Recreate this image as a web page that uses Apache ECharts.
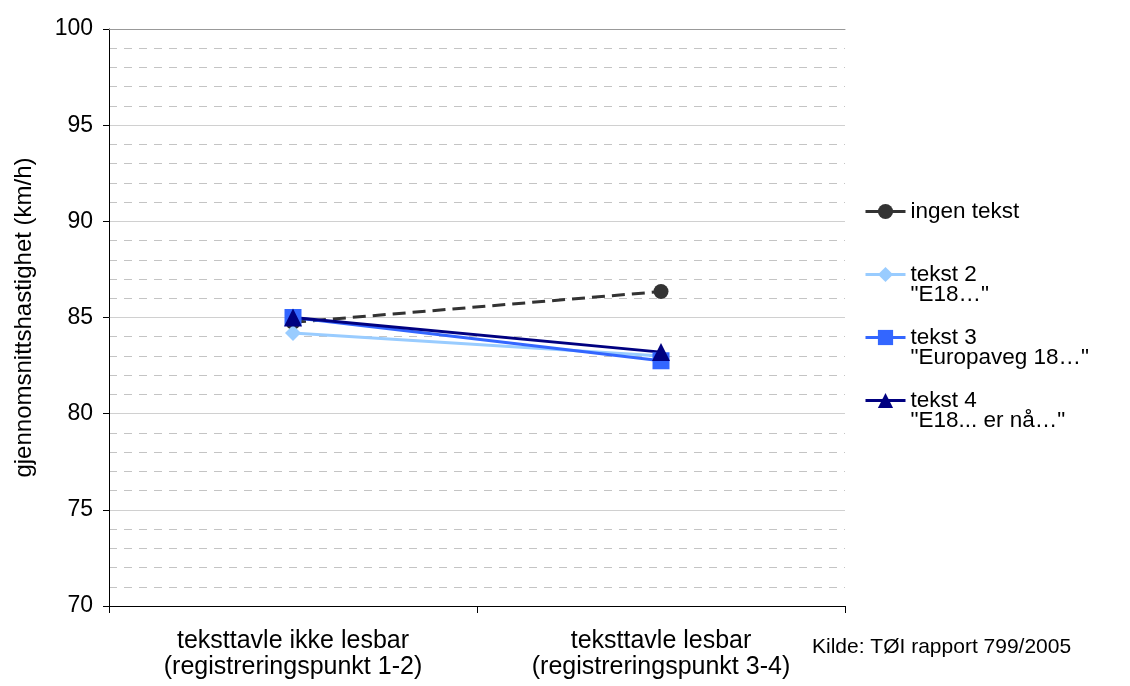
<!DOCTYPE html>
<html>
<head>
<meta charset="utf-8">
<script src="https://cdn.jsdelivr.net/npm/echarts@6/dist/echarts.min.js"></script>
<style>
  html, body { margin: 0; padding: 0; background: #ffffff; }
  #chart { width: 1130px; height: 686px; }
</style>
</head>
<body>
<div id="chart"></div>
<script>
// Categories along the x axis
const categories = [
  'teksttavle ikke lesbar\n(registreringspunkt 1-2)',
  'teksttavle lesbar\n(registreringspunkt 3-4)'
];

// Average speeds (km/h) for each sign text variant
const ingenTekst = [84.75, 86.35];
const tekst2 = [84.2, 83.0];
const tekst3 = [85.0, 82.75];
const tekst4 = [85.0, 83.2];

// Legend labels (name line + quoted text line)
const seriesNames = ['ingen tekst', 'tekst 2', 'tekst 3', 'tekst 4'];
const seriesSubtitles = ['', '"E18…"', '"Europaveg 18…"', '"E18... er nå…"'];

const yTicks = { min: 70, max: 100, interval: 5 };
const sourceNote = 'Kilde: TØI rapport 799/2005';

const FONT = '"Liberation Sans", Arial, sans-serif';

const chart = echarts.init(document.getElementById('chart'), null, { renderer: 'canvas' });

function lineSeries(name, data, color, symbol, symbolSize, dashed) {
  return {
    name: name,
    type: 'line',
    xAxisIndex: 0,
    data: data,
    symbol: symbol,
    symbolSize: symbolSize,
    lineStyle: { color: color, width: 3, type: dashed ? [13, 7] : 'solid' },
    itemStyle: { color: color },
    emphasis: { disabled: true },
    animation: false
  };
}

const option = {
  backgroundColor: '#ffffff',
  textStyle: { fontFamily: FONT },
  grid: { left: 109, right: 285, top: 29, bottom: 80, containLabel: false },
  legend: {
    orient: 'vertical',
    left: 859,
    top: 175,
    itemWidth: 40,
    itemHeight: 19,
    itemGap: 0,
    data: seriesNames.map(n => ({ name: n, lineStyle: { type: 'solid', width: 3 } })),
    formatter: function (name) {
      const i = seriesNames.indexOf(name);
      return '\n' + name + '\n' + seriesSubtitles[i];
    },
    textStyle: { fontFamily: FONT, fontSize: 22.5, color: '#000', lineHeight: 20 },
    selectedMode: false
  },
  xAxis: [
    {
      type: 'category',
      data: categories,
      boundaryGap: true,
      axisLine: { lineStyle: { color: '#000', width: 1 } },
      axisTick: { show: true, length: 7, lineStyle: { color: '#000' } },
      axisLabel: { fontFamily: FONT, fontSize: 25, color: '#000', lineHeight: 26, margin: 22 },
      splitLine: { show: false }
    },
    {
      // top edge of the plot area
      type: 'category',
      data: categories,
      position: 'top',
      axisLine: { lineStyle: { color: '#999999', width: 1 } },
      axisTick: { show: false },
      axisLabel: { show: false },
      splitLine: { show: false }
    }
  ],
  yAxis: {
    type: 'value',
    min: yTicks.min,
    max: yTicks.max,
    interval: yTicks.interval,
    name: 'gjennomsnittshastighet (km/h)',
    nameLocation: 'middle',
    nameGap: 73,
    nameTextStyle: { fontFamily: FONT, fontSize: 24, color: '#000' },
    axisLine: { show: true, lineStyle: { color: '#000', width: 1 } },
    axisTick: { show: true, length: 6, lineStyle: { color: '#000' } },
    axisLabel: { fontFamily: FONT, fontSize: 23, color: '#000', margin: 16 },
    splitLine: { show: true, lineStyle: { color: '#d0d0d0', width: 1 } },
    minorTick: { show: false, splitNumber: 5 },
    minorSplitLine: { show: true, lineStyle: { color: '#c4c4c4', width: 1, type: [8, 7] } }
  },
  graphic: [
    {
      type: 'text',
      left: 812,
      top: 637,
      style: { text: sourceNote, fontFamily: FONT, fontSize: 21, fill: '#000' }
    }
  ],
  series: [
    lineSeries(seriesNames[0], ingenTekst, '#333333', 'circle', 15, true),
    lineSeries(seriesNames[1], tekst2, '#99ccff', 'diamond', 16, false),
    lineSeries(seriesNames[2], tekst3, '#3366ff', 'rect', 17, false),
    lineSeries(seriesNames[3], tekst4, '#000080', 'triangle', 18, false)
  ]
};

chart.setOption(option);
</script>
</body>
</html>
